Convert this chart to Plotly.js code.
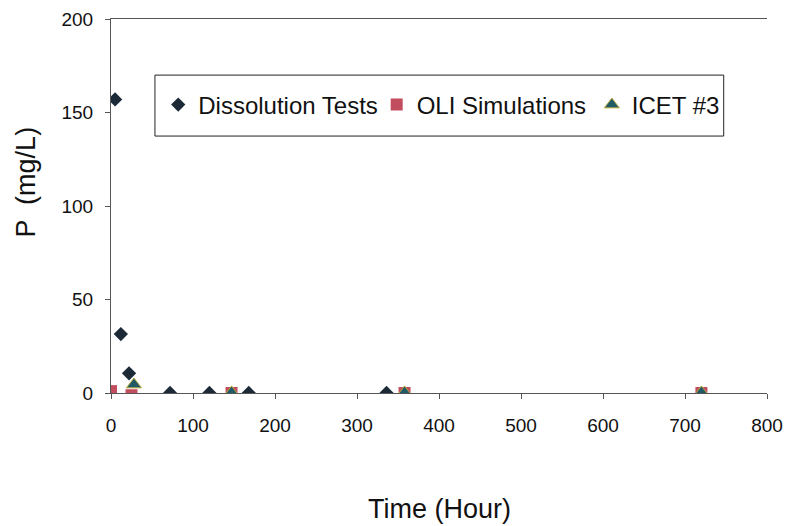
<!DOCTYPE html>
<html>
<head>
<meta charset="utf-8">
<script src="https://cdn.plot.ly/plotly-3.0.1.min.js"></script>
<style>html,body{margin:0;padding:0;background:#fff;}#chart{width:787px;height:526px;}</style>
</head>
<body>
<div id="chart"></div>
<script>
// Data
const dissolutionTime = [5, 12, 22, 72, 120, 168, 336];
const dissolutionP    = [157, 31.5, 10.5, 0, 0, 0, 0];

const oliTime = [0, 25, 147, 358, 720];
const oliP    = [1, -1.2, 0, 0, 0];

const icetTime = [28, 147, 358, 720];
const icetP    = [4.5, 0.3, 0.3, 0.3];

const seriesNames = ["Dissolution Tests", "OLI Simulations", "ICET #3"];
const xTicks = [0, 100, 200, 300, 400, 500, 600, 700, 800];
const yTicks = [0, 50, 100, 150, 200];

const font = "Arial, 'Liberation Sans', sans-serif";

const traces = [
  {x: dissolutionTime, y: dissolutionP, name: seriesNames[0], type: "scatter", mode: "markers", legend: "legend",
   marker: {symbol: "diamond", size: 11, color: "#1c2a38", line: {width: 0}}},
  {x: oliTime, y: oliP, name: seriesNames[1], type: "scatter", mode: "markers", legend: "legend2",
   marker: {symbol: "square", size: 12, color: "#c24d5e", line: {width: 0}}},
  {x: icetTime, y: icetP, name: seriesNames[2], type: "scatter", mode: "markers", legend: "legend3",
   marker: {symbol: "triangle-up", size: 13, color: "#1f5a66", line: {width: 1, color: "#b8a83a"}}}
];

function legendAt(xp) {
  return {orientation: "h", x: xp, y: 0.77, xanchor: "left", yanchor: "middle",
          borderwidth: 0, bgcolor: "rgba(0,0,0,0)",
          font: {family: font, size: 24, color: "#111"}};
}

const layout = {
  width: 787, height: 526,
  margin: {l: 111, r: 20, t: 19, b: 133},
  paper_bgcolor: "#fff", plot_bgcolor: "#fff",
  font: {family: font, size: 19, color: "#111"},
  showlegend: true,
  legend: legendAt(0.072),
  legend2: legendAt(0.405),
  legend3: legendAt(0.733),
  xaxis: {range: [0, 800], tickvals: xTicks, ticktext: xTicks.map(String),
          showgrid: false, zeroline: false, showline: true, linecolor: "#555", linewidth: 1,
          mirror: true, ticks: "outside", ticklen: 5, tickcolor: "#555",
          ticklabelstandoff: 10, tickfont: {family: font, size: 19, color: "#111"}},
  yaxis: {range: [0, 200], tickvals: yTicks, ticktext: yTicks.map(String),
          showgrid: false, zeroline: false, showline: true, linecolor: "#555", linewidth: 1,
          ticks: "outside", ticklen: 5, tickcolor: "#555",
          ticklabelstandoff: 8, tickfont: {family: font, size: 19, color: "#111"}},
  shapes: [
    {type: "rect", xref: "paper", yref: "paper", x0: 0.067, x1: 0.934, y0: 0.687, y1: 0.850,
     line: {color: "#222", width: 1}, fillcolor: "rgba(0,0,0,0)", layer: "below"}
  ],
  annotations: [
    {text: "Time (Hour)", xref: "paper", yref: "paper", x: 0.5, y: -0.31, xanchor: "center", yanchor: "middle",
     showarrow: false, font: {family: font, size: 27, color: "#111"}},
    {text: "P  (mg/L)", xref: "paper", yref: "paper", x: -0.13, y: 0.565, xanchor: "center", yanchor: "middle",
     textangle: -90, showarrow: false, font: {family: font, size: 27, color: "#111"}}
  ]
};

Plotly.newPlot("chart", traces, layout, {displayModeBar: false, staticPlot: true});
</script>
</body>
</html>
